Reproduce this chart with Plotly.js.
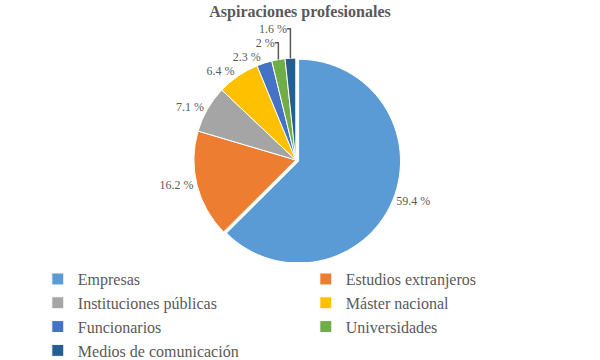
<!DOCTYPE html>
<html>
<head>
<meta charset="utf-8">
<script src="https://cdn.plot.ly/plotly-3.0.1.min.js"></script>
<style>html,body{margin:0;padding:0;background:#fff;}#chart{width:600px;height:360px;}</style>
</head>
<body>
<div id="chart"></div>
<script>
const categories = ["Empresas", "Estudios extranjeros", "Instituciones públicas", "Máster nacional", "Funcionarios", "Universidades", "Medios de comunicación"];
const values = [59.4, 16.2, 7.1, 6.4, 2.3, 2, 1.6];
const colors = ["#5B9BD5", "#ED7D31", "#A5A5A5", "#FFC000", "#4472C4", "#70AD47", "#255E91"];
const labelsText = values.map(v => v + " %");

const serif = "Liberation Serif";

const trace = {
  type: "pie",
  labels: categories,
  values: values,
  text: labelsText,
  textinfo: "text",
  textposition: "outside",
  sort: false,
  direction: "clockwise",
  rotation: 0,
  pull: [0.03, 0, 0, 0, 0, 0, 0],
  marker: { colors: colors, line: { color: "#ffffff", width: 1 } },
  outsidetextfont: { family: serif, size: 12, color: "#595959" },
  automargin: false,
  domain: { x: [0.193, 0.793], y: [0.297, 0.953] },
  hoverinfo: "label+text"
};

const layout = {
  width: 600,
  height: 360,
  paper_bgcolor: "#ffffff",
  margin: { l: 0, r: 0, t: 40, b: 0, autoexpand: false },
  title: {
    text: "<b>Aspiraciones profesionales</b>",
    x: 0.5, xanchor: "center",
    y: 0.985, yanchor: "top",
    font: { family: serif, size: 16, color: "#595959" }
  },
  showlegend: true,
  legend: {
    orientation: "h",
    x: 0.063, xanchor: "left",
    yref: "container",
    y: 0.272, yanchor: "top",
    entrywidth: 223,
    entrywidthmode: "pixels",
    itemwidth: 30,
    font: { family: serif, size: 16, color: "#595959" },
    traceorder: "normal"
  }
};

Plotly.newPlot("chart", [trace], layout, { displayModeBar: false, staticPlot: true });
</script>
</body>
</html>
